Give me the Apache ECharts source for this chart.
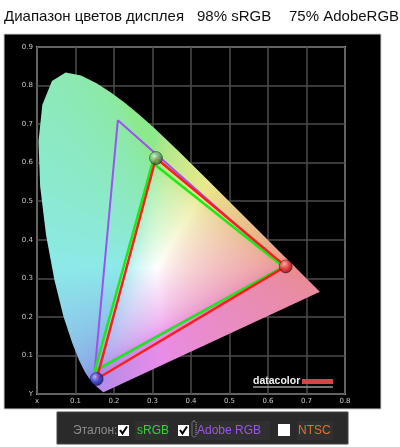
<!DOCTYPE html>
<html><head><meta charset="utf-8">
<script src="https://cdn.jsdelivr.net/npm/echarts@6/dist/echarts.min.js"></script>
<style>html,body{margin:0;padding:0;background:#fff;}#c{width:400px;height:447px;}</style>
</head><body><div id="c"></div>
<script>
// CIE 1931 spectral locus (closed by the purple line)
const locusX = [0.1741,0.1733,0.1714,0.1644,0.1566,0.1440,0.1355,0.1241,0.1096,0.0913,0.0687,0.0454,0.0235,0.0082,0.0039,0.0139,0.0389,0.0743,0.1142,0.1547,0.1929,0.2296,0.2658,0.3016,0.3373,0.3731,0.4441,0.5125,0.5752,0.6270,0.6658,0.6915,0.7190,0.7347];
const locusY = [0.0050,0.0048,0.0051,0.0109,0.0177,0.0297,0.0399,0.0578,0.0868,0.1327,0.2007,0.2950,0.4127,0.5384,0.6548,0.7502,0.8120,0.8338,0.8262,0.8059,0.7816,0.7543,0.7243,0.6923,0.6589,0.6245,0.5547,0.4866,0.4242,0.3725,0.3340,0.3083,0.2809,0.2653];
// reference gamuts (R, G, B, back to R)
const srgbX  = [0.64, 0.30, 0.15, 0.64];
const srgbY  = [0.33, 0.60, 0.06, 0.33];
const adobeX = [0.64, 0.21, 0.15, 0.64];
const adobeY = [0.33, 0.71, 0.06, 0.33];
// measured display gamut
const measX  = [0.646, 0.309, 0.155, 0.646];
const measY  = [0.331, 0.612, 0.039, 0.331];
const dotColors = ['red', 'green', 'blue'];
// tick labels
const xTickLabels = ['x','0.1','0.2','0.3','0.4','0.5','0.6','0.7','0.8'];
const yTickLabels = ['Y','0.1','0.2','0.3','0.4','0.5','0.6','0.7','0.8','0.9'];

const title1 = 'Диапазон цветов дисплея';
const title2 = '98% sRGB';
const title3 = '75% AdobeRGB';
const legendLabel = 'Эталон:';
const legendItems = ['sRGB', 'Adobe RGB', 'NTSC'];

function zip(a, b) { return a.map((v, i) => [v, b[i]]); }

function xyColor(x, y) {
  if (y < 0.002) y = 0.002;
  const X = x / y, Y = 1, Z = (1 - x - y) / y;
  let r = 3.2406*X - 1.5372*Y - 0.4986*Z;
  let g = -0.9689*X + 1.8758*Y + 0.0415*Z;
  let b = 0.0557*X - 0.2040*Y + 1.0570*Z;
  const m = Math.min(r, g, b);
  if (m < 0) { r -= 0.3*m; g -= 0.3*m; b -= 0.3*m; }
  r = Math.max(0, r); g = Math.max(0, g); b = Math.max(0, b);
  const M = Math.max(r, g, b) || 1;
  const gam = c => { c = c / M; return c <= 0.0031308 ? 12.92*c : 1.055*Math.pow(c, 1/2.4) - 0.055; };
  const w = 0.6;
  const c = [gam(r), gam(g), gam(b)].map(v => v*(1-w) + w);
  const f = 0.78 + 0.22 * Math.min(c[0], c[1], c[2]);
  return c.map(v => Math.round(255 * v * f));
}

let patternCanvas = null;
function getPattern(api) {
  if (patternCanvas) return patternCanvas;
  const p0 = api.coord([0, 0]), p1 = api.coord([0.8, 0.9]);
  const W = 400, H = 447;
  const cv = document.createElement('canvas'); cv.width = W; cv.height = H;
  const ctx = cv.getContext('2d');
  const img = ctx.createImageData(W, H);
  for (let py = Math.max(0, Math.floor(p1[1]) - 2); py < Math.min(H, Math.ceil(p0[1]) + 2); py++) {
    for (let px = Math.max(0, Math.floor(p0[0]) - 2); px < Math.min(W, Math.ceil(p1[0]) + 2); px++) {
      const x = (px + 0.5 - p0[0]) / (p1[0] - p0[0]) * 0.8;
      const y = (p0[1] - (py + 0.5)) / (p0[1] - p1[1]) * 0.9;
      const c = xyColor(Math.max(0, x), y);
      const k = (py * W + px) * 4;
      img.data[k] = c[0]; img.data[k+1] = c[1]; img.data[k+2] = c[2]; img.data[k+3] = 255;
    }
  }
  ctx.putImageData(img, 0, 0);
  patternCanvas = cv;
  return cv;
}

function sphere(name) {
  const s = {
    red:   ['#ffc0c0', '#e02828', '#6a0808'],
    green: ['#d8f5d0', '#5fae58', '#1f4d1c'],
    blue:  ['#b8c0ff', '#2434c8', '#0a1060']
  }[name];
  return { type: 'radial', x: 0.38, y: 0.35, r: 0.7,
    colorStops: [{offset: 0, color: s[0]}, {offset: 0.55, color: s[1]}, {offset: 1, color: s[2]}] };
}

const chart = echarts.init(document.getElementById('c'), null, {renderer: 'canvas'});
const barY = 431;
const option = {
  animation: false,
  backgroundColor: '#fff',
  grid: { left: 37, top: 47, width: 308, height: 347, show: true, borderColor: '#a8a8a8', borderWidth: 2, backgroundColor: 'transparent' },
  xAxis: {
    type: 'value', min: 0, max: 0.8, interval: 0.1,
    axisLine: { show: false }, axisTick: { show: false },
    splitLine: { show: true, lineStyle: { color: '#4c4c4c', width: 1.5 } },
    axisLabel: { color: '#c8c8c8', fontSize: 7, margin: 4, fontFamily: 'DejaVu Sans',
      formatter: (v) => xTickLabels[Math.round(v * 10)] }
  },
  yAxis: {
    type: 'value', min: 0, max: 0.9, interval: 0.1,
    axisLine: { show: false }, axisTick: { show: false },
    splitLine: { show: true, lineStyle: { color: '#4c4c4c', width: 1.5 } },
    axisLabel: { color: '#c8c8c8', fontSize: 7, margin: 4, fontFamily: 'DejaVu Sans',
      formatter: (v) => yTickLabels[Math.round(v * 10)] }
  },
  graphic: [
    { type: 'rect', z: -10, shape: { x: 4, y: 34, width: 377, height: 375 }, style: { fill: '#000', stroke: '#d0d0d0', lineWidth: 1 } },
    { type: 'text', x: 4, y: 16.5, style: { text: title1, font: '15px "Liberation Sans", Arial', fill: '#111', textVerticalAlign: 'middle' } },
    { type: 'text', x: 197, y: 16.5, style: { text: title2, font: '15px "Liberation Sans", Arial', fill: '#111', textVerticalAlign: 'middle' } },
    { type: 'text', x: 289, y: 16.5, style: { text: title3, font: '15px "Liberation Sans", Arial', fill: '#111', textVerticalAlign: 'middle' } },
    // datacolor logo
    { type: 'text', x: 253, y: 381, z: 10, style: { text: 'datacolor', font: 'bold 10.5px "Liberation Sans", Arial', fill: '#f2f2f2', textVerticalAlign: 'middle' } },
    { type: 'rect', z: 10, shape: { x: 302, y: 379, width: 31, height: 5 }, style: { fill: '#d64545' } },
    { type: 'line', z: 10, shape: { x1: 253, y1: 387, x2: 333, y2: 387 }, style: { stroke: '#9a9a9a', lineWidth: 1.5 } },
    // bottom reference bar
    { type: 'rect', shape: { x: 57, y: 412, width: 291, height: 32 }, style: { fill: '#2a2a2a', stroke: '#444', lineWidth: 1 } },
    { type: 'rect', shape: { x: 135, y: 421, width: 33, height: 19 }, style: { fill: '#303030' } },
    { type: 'rect', shape: { x: 196, y: 421, width: 74, height: 19 }, style: { fill: '#303030' } },
    { type: 'rect', shape: { x: 297, y: 421, width: 36, height: 19 }, style: { fill: '#303030' } },
    { type: 'text', x: 73, y: barY, style: { text: legendLabel, font: '12px "Liberation Sans", Arial', fill: '#8e8e8e', textVerticalAlign: 'middle' } },
    { type: 'rect', shape: { x: 118, y: 425, width: 11, height: 11 }, style: { fill: '#fff' } },
    { type: 'polyline', shape: { points: [[120, 430], [122.5, 433.5], [127, 426.5]] }, style: { stroke: '#000', lineWidth: 2, fill: null } },
    { type: 'text', x: 137, y: barY, style: { text: legendItems[0], font: '12px "Liberation Sans", Arial', fill: '#2fd62f', textVerticalAlign: 'middle' } },
    { type: 'rect', shape: { x: 178, y: 425, width: 11, height: 11 }, style: { fill: '#fff' } },
    { type: 'polyline', shape: { points: [[180, 430], [182.5, 433.5], [187, 426.5]] }, style: { stroke: '#000', lineWidth: 2, fill: null } },
    { type: 'rect', shape: { x: 192, y: 421, width: 4, height: 16, r: 2 }, style: { fill: null, stroke: '#bbb', lineWidth: 1, lineDash: [1, 1] } },
    { type: 'text', x: 197, y: barY, style: { text: legendItems[1], font: '12px "Liberation Sans", Arial', fill: '#9a55ee', textVerticalAlign: 'middle' } },
    { type: 'rect', shape: { x: 278, y: 424, width: 12, height: 12 }, style: { fill: '#fff' } },
    { type: 'text', x: 298, y: barY, style: { text: legendItems[2], font: '12px "Liberation Sans", Arial', fill: '#e5702c', textVerticalAlign: 'middle' } }
  ],
  series: [
    {
      type: 'custom', z: 1, silent: true, clip: false,
      data: [0],
      renderItem: function (params, api) {
        const pts = locusX.map((x, i) => api.coord([x, locusY[i]]));
        return { type: 'polygon', shape: { points: pts },
          style: { fill: { image: getPattern(api), repeat: 'no-repeat' }, stroke: null } };
      }
    },
    { type: 'line', z: 3, data: zip(adobeX, adobeY), symbol: 'none', lineStyle: { color: '#a050f0', width: 2 } },
    { type: 'line', z: 4, data: zip(srgbX, srgbY), symbol: 'none', lineStyle: { color: '#19ea19', width: 2.5 } },
    { type: 'line', z: 5, data: zip(measX, measY), symbol: 'none', lineStyle: { color: '#ff1c1c', width: 2.5 } },
    { type: 'scatter', z: 6, symbolSize: 13,
      data: measX.slice(0, 3).map((x, i) => ({ value: [x, measY[i]], itemStyle: { color: sphere(dotColors[i]), borderColor: 'rgba(0,0,0,0.6)', borderWidth: 0.8 } })) }
  ]
};
chart.setOption(option);
</script>
</body></html>
